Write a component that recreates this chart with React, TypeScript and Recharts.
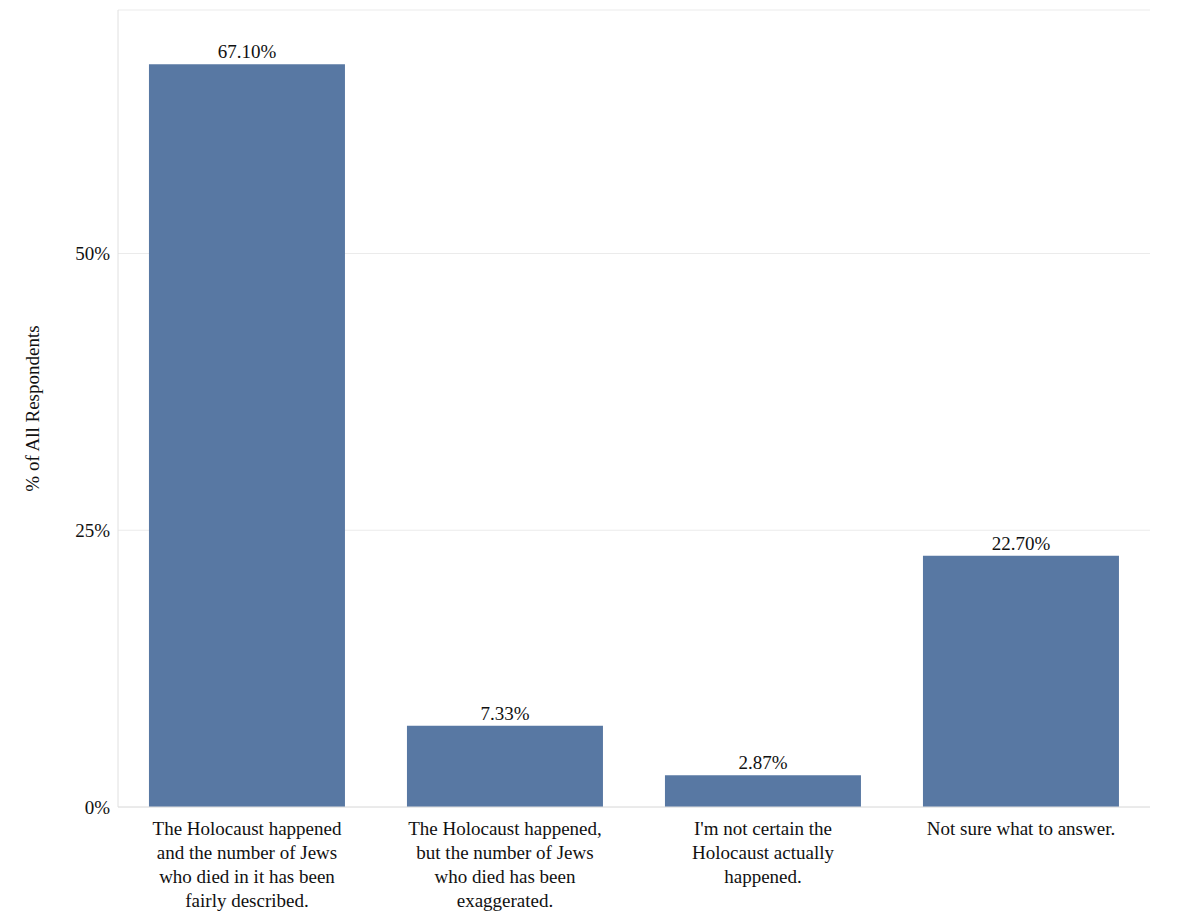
import React from 'react';
import { BarChart, Bar, XAxis, YAxis, CartesianGrid, LabelList } from 'recharts';

const categories = [
  'The Holocaust happened|and the number of Jews|who died in it has been|fairly described.',
  'The Holocaust happened,|but the number of Jews|who died has been|exaggerated.',
  "I'm not certain the|Holocaust actually|happened.",
  'Not sure what to answer.',
];
const values = [67.1, 7.33, 2.87, 22.7];
const yTicks = [0, 25, 50];

const data = categories.map((name, i) => ({ name, value: values[i] }));
const FONT = '"Liberation Serif", "Times New Roman", serif';

const CategoryTick = (props: any) => {
  const { x, y, payload } = props;
  const lines: string[] = String(payload.value).split('|');
  return (
    <text x={x} y={y + 20} textAnchor="middle" fontFamily={FONT} fontSize={19} fill="#111">
      {lines.map((l, i) => (
        <tspan key={i} x={x} dy={i === 0 ? 0 : 24}>{l}</tspan>
      ))}
    </text>
  );
};

export default function App() {
  return (
    <div style={{ position: 'absolute', left: 0, top: 0, background: '#fff' }}>
      <BarChart width={1200} height={920} data={data} barCategoryGap="12%"
        margin={{ top: 10, right: 50, bottom: 0, left: 0 }}>
        <CartesianGrid vertical={false} stroke="#ebebeb" />
        <XAxis dataKey="name" height={113} interval={0} tick={<CategoryTick />}
          tickLine={false} axisLine={{ stroke: '#e0e0e0' }} />
        <YAxis width={118} domain={[0, 72]} ticks={yTicks} tickFormatter={(v) => `${v}%`}
          tickLine={false} axisLine={{ stroke: '#e0e0e0' }}
          tick={{ fontFamily: FONT, fontSize: 19, fill: '#111' }}
          label={{ value: '% of All Respondents', angle: -90, position: 'insideLeft', offset: 32,
            style: { fontFamily: FONT, fontSize: 19, fill: '#111', textAnchor: 'middle' } }} />
        <Bar dataKey="value" fill="#5878a3" isAnimationActive={false}>
          <LabelList dataKey="value" position="top" offset={6}
            formatter={(v: any) => `${Number(v).toFixed(2)}%`}
            style={{ fontFamily: FONT, fontSize: 19, fill: '#111' }} />
        </Bar>
      </BarChart>
    </div>
  );
}
